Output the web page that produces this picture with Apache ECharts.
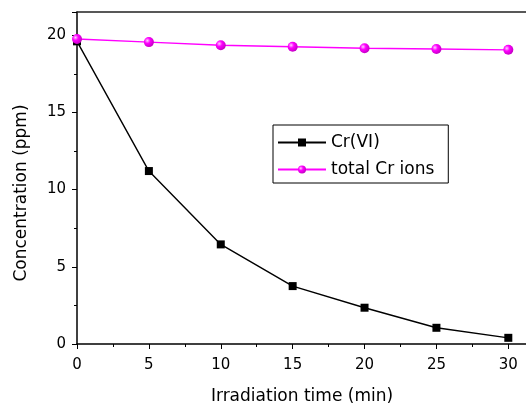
<!DOCTYPE html>
<html>
<head>
<meta charset="utf-8">
<script src="https://cdn.jsdelivr.net/npm/echarts@6/dist/echarts.min.js"></script>
<style>
  html, body { margin: 0; padding: 0; background: #fff; }
  #chart { width: 526px; height: 407px; }
</style>
</head>
<body>
<div id="chart"></div>
<script>
// time points (min)
const times = [0, 5, 10, 15, 20, 25, 30];
// Cr(VI) concentration
const crVI = [19.6, 11.2, 6.45, 3.75, 2.35, 1.05, 0.4];
// total Cr ions concentration
const totalCr = [19.75, 19.55, 19.35, 19.25, 19.15, 19.1, 19.05];

const chart = echarts.init(document.getElementById('chart'));

const font = 'DejaVu Sans, sans-serif';

const ball = {
    type: 'radial', x: 0.35, y: 0.35, r: 0.7,
    colorStops: [
        { offset: 0, color: '#ffd0ff' },
        { offset: 0.4, color: '#ff00ff' },
        { offset: 1, color: '#c000c0' }
    ]
};

let option = {
    animation: false,
    grid: { left: 77, right: -1, top: 12, bottom: 63, outerBoundsMode: 'none', containLabel: false },
    legend: {
        orient: 'vertical',
        left: 273,
        top: 125,
        padding: [9, 14, 5, 4],
        itemGap: 10,
        itemWidth: 48,
        itemHeight: 10,
        borderColor: '#000',
        borderWidth: 1,
        textStyle: { fontFamily: font, fontSize: 17, color: '#000' },
        data: ['Cr(VI)', 'total Cr ions']
    },
    xAxis: [{
        type: 'value',
        min: 0,
        max: 31.3,
        interval: 5,
        name: 'Irradiation time (min)',
        nameLocation: 'middle',
        nameGap: 44,
        nameTextStyle: { fontFamily: font, fontSize: 17, color: '#000' },
        axisLine: { lineStyle: { color: '#000', width: 1.5 } },
        axisTick: { inside: false, length: 5, lineStyle: { color: '#000' } },
        minorTick: { show: true, splitNumber: 2, length: 3, lineStyle: { color: '#000' } },
        axisLabel: {
            margin: 14, fontFamily: font, fontSize: 15, color: '#000',
            formatter: function (v) { return v <= 30 ? String(v) : ''; }
        },
        splitLine: { show: false }
    }, {
        type: 'value',
        position: 'top',
        min: 0,
        max: 31.3,
        axisLine: { show: true, onZero: false, lineStyle: { color: '#222', width: 1.5 } },
        axisTick: { show: false },
        axisLabel: { show: false },
        splitLine: { show: false }
    }],
    yAxis: {
        type: 'value',
        min: 0,
        max: 21.5,
        interval: 5,
        name: 'Concentration (ppm)',
        nameLocation: 'middle',
        nameGap: 47,
        nameTextStyle: { fontFamily: font, fontSize: 17, color: '#000', padding: [0, 30, 0, 0] },
        axisLine: { show: true, lineStyle: { color: '#000', width: 1.5 } },
        axisTick: { inside: false, length: 5, lineStyle: { color: '#000' } },
        minorTick: { show: true, splitNumber: 2, length: 3, lineStyle: { color: '#000' } },
        axisLabel: { margin: 11, fontFamily: font, fontSize: 15, color: '#000', showMaxLabel: false },
        splitLine: { show: false }
    },
    series: [{
        name: 'Cr(VI)',
        type: 'line',
        data: times.map(function (t, i) { return [t, crVI[i]]; }),
        symbol: 'rect',
        symbolSize: 8,
        lineStyle: { color: '#000', width: 1.4 },
        itemStyle: { color: '#000' },
        z: 3
    }, {
        name: 'total Cr ions',
        type: 'line',
        data: times.map(function (t, i) { return [t, totalCr[i]]; }),
        symbol: 'circle',
        symbolSize: 10,
        lineStyle: { color: '#ff00ff', width: 1.4 },
        itemStyle: { color: ball },
        z: 4
    }]
};

chart.setOption(option);
</script>
</body>
</html>
